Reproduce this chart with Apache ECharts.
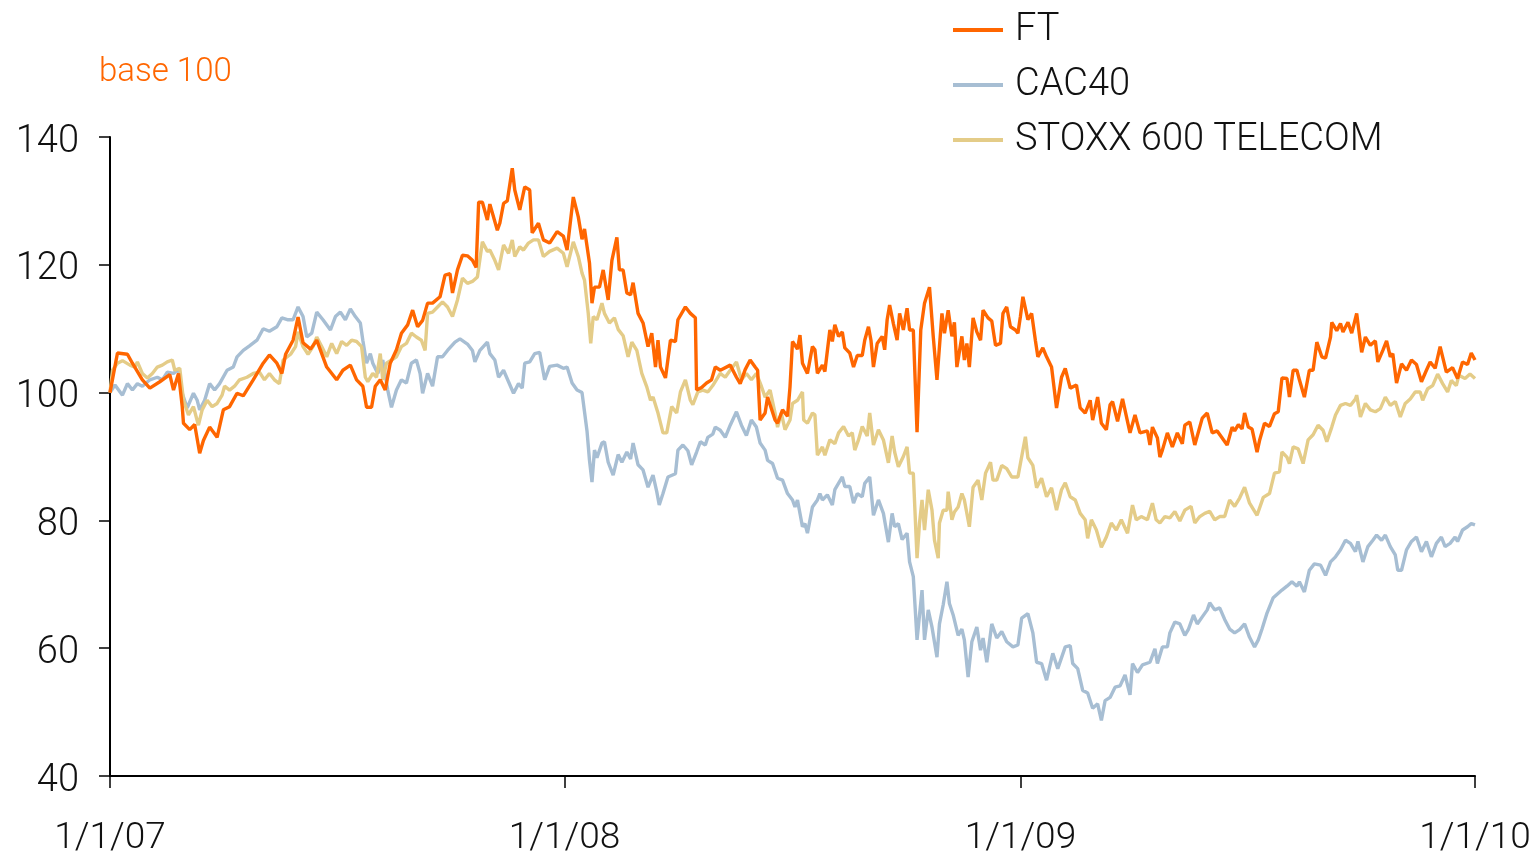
<!DOCTYPE html>
<html>
<head>
<meta charset="utf-8">
<script src="https://cdn.jsdelivr.net/npm/echarts@6/dist/echarts.min.js"></script>
<style>
html,body{margin:0;padding:0;background:#fff}
#chart{width:1536px;height:852px}
</style>
</head>
<body>
<div id="chart"></div>
<script>
// names / axis ticks
var seriesNames = ['FT', 'CAC40', 'STOXX 600 TELECOM'];
var yTicks = [40, 60, 80, 100, 120, 140];
var xTickDays = [0, 365, 731, 1096];          // days after 1/1/07
var xTickLabels = ['1/1/07', '1/1/08', '1/1/09', '1/1/10'];
var unitLabel = 'base 100';

// [days after 1/1/07, index value]
var ftData = [[0,100],[6,106.2],[14,106],[18,104.6],[26,102],[32,100.7],[40,101.7],[48,102.8],[51,100.4],[55,103],[58,97.8],[59,95.2],[64,94.2],[68,95],[72,90.5],[75,92.5],[80,94.6],[86,93],[91,97.3],[96,97.8],[102,99.9],[107,99.5],[115,102],[123,104.6],[128,105.9],[134,104.6],[138,103],[141,106],[147,108.2],[151,111.8],[155,107.8],[161,106.8],[166,108.2],[174,104],[182,102],[187,103.5],[193,104.3],[198,102],[203,101],[206,97.7],[210,97.7],[213,101],[217,102],[221,100.4],[225,104.6],[230,106.7],[234,109.3],[239,110.6],[243,112.9],[247,110.3],[251,111.3],[255,114],[259,114],[265,115],[269,118.4],[273,118.6],[275,115.6],[279,119.2],[283,121.5],[287,121.4],[291,120.7],[294,119.6],[296,129.8],[299,129.8],[303,127],[305,129.5],[311,125.4],[313,126.5],[316,129.6],[319,130],[323,135.1],[325,131.7],[329,128.6],[333,132.2],[337,131.7],[339,125],[344,126.5],[348,123.9],[353,123.4],[359,125.2],[364,124.5],[367,122.3],[372,130.6],[376,127.5],[379,124],[381,125.6],[385,120.3],[387,114],[389,116.5],[393,116.5],[396,119.2],[400,114.5],[403,120.7],[407,124.3],[409,119.2],[412,119.2],[415,115.6],[418,115.3],[420,117.2],[424,112.4],[428,110.9],[432,107.2],[435,109.3],[438,104],[440,108.2],[442,104],[446,102.3],[450,108.2],[454,108],[456,111.4],[462,113.4],[466,112.4],[470,111.7],[471,100.4],[475,100.8],[479,101.5],[483,102],[486,104],[490,103.5],[492,103.7],[498,104.3],[503,102.4],[506,101.4],[510,103.6],[514,105.1],[518,104],[520,103.5],[522,95.7],[526,96.8],[528,99.3],[534,95.7],[536,95.2],[540,97.3],[544,96.3],[546,100.9],[548,108],[552,106.8],[554,109],[556,104.6],[560,103],[564,107.2],[566,106.7],[568,103],[572,104.3],[574,103.3],[578,109.8],[580,108],[582,110.6],[585,108.8],[588,109.5],[590,107],[594,106.2],[597,104],[600,105.8],[604,105.8],[606,108.2],[609,110.3],[611,108.2],[613,104],[616,107.7],[620,108.8],[622,106.7],[624,111.4],[626,113.7],[629,110.8],[632,108.2],[634,112.4],[637,109.8],[640,113.2],[642,109.8],[645,109.8],[648,93.8],[651,109.8],[654,114],[658,116.5],[661,108.8],[664,102],[668,112.4],[670,109.3],[673,112.9],[676,108.8],[678,111],[680,104],[684,108.8],[686,105.1],[688,107.7],[690,104],[693,111.7],[696,109.5],[699,108.2],[701,112.9],[705,111.7],[708,111.2],[711,107.4],[715,107.7],[717,112.4],[720,113.4],[723,110.3],[727,109.8],[729,109.3],[731,111.9],[733,115],[737,111.4],[740,112.4],[743,108.2],[745,105.6],[749,107],[752,105.6],[756,104],[760,97.6],[764,102.4],[767,103.8],[771,100.7],[776,101.2],[779,97.6],[783,96.8],[787,98.8],[789,95.7],[793,99.3],[796,95.2],[800,94.2],[803,98.1],[805,98.6],[809,95.5],[813,99],[819,93.7],[823,96.5],[827,93.7],[833,94],[835,91.8],[837,94.6],[841,92.9],[843,89.9],[845,91],[849,93.7],[853,91.5],[857,93.7],[861,92],[863,94.9],[867,95.4],[871,91.8],[877,96],[881,96.8],[885,93.7],[889,94],[893,92.9],[897,91.8],[901,94.6],[903,94],[906,95],[909,94.3],[911,96.8],[914,94.6],[917,94.3],[921,90.7],[923,92.5],[927,95.2],[931,94.7],[935,96.7],[938,97],[941,102.3],[945,102.2],[947,99.3],[950,103.5],[953,103.5],[955,102],[959,99.3],[963,103.5],[966,103.5],[969,107.9],[973,105.6],[976,105.4],[980,108.7],[981,111],[985,109.7],[988,110.8],[990,109.5],[994,111],[997,109.3],[1001,112.4],[1005,106.3],[1008,108.7],[1012,107.4],[1016,108.1],[1018,104.8],[1022,106.6],[1025,108.1],[1028,105.6],[1030,106.1],[1033,101.5],[1037,104.5],[1041,103.5],[1045,105.1],[1049,104.4],[1053,101.7],[1057,103.5],[1060,104.8],[1064,103.8],[1068,107.2],[1073,103.2],[1078,103.9],[1082,102.2],[1086,104.8],[1090,104.4],[1093,106.2],[1096,105.1]];

var cacData = [[0,100],[4,101.2],[10,99.6],[14,101.4],[18,100.4],[22,101.4],[26,101],[32,102],[38,102.4],[42,102],[46,103.2],[51,103],[55,103.7],[58,99.9],[62,97.6],[67,99.9],[70,98.8],[72,97.3],[76,98.8],[80,101.4],[84,100.4],[88,101.4],[94,103.5],[99,104],[102,105.6],[107,106.6],[112,107.3],[118,108.2],[123,110],[128,109.6],[134,110.3],[138,111.7],[143,111.4],[147,111.4],[151,113.4],[155,111.9],[158,108.7],[162,109.3],[166,112.6],[171,111.4],[177,109.8],[181,111.9],[185,112.6],[189,111.4],[193,113.1],[197,111.9],[201,110.9],[203,108.2],[206,104.6],[209,106.1],[211,104.6],[215,103],[219,105.1],[223,100.4],[226,97.7],[230,100.4],[234,102],[238,101.5],[242,104.6],[246,105.1],[249,103],[251,99.9],[255,103],[259,101],[263,105.6],[267,105.6],[271,106.6],[277,107.9],[281,108.4],[287,107.6],[291,106.6],[293,104.8],[297,106.6],[303,107.9],[305,106.1],[309,105.1],[312,102.4],[316,103.5],[320,101.7],[324,99.9],[328,101.4],[331,100.7],[333,104.6],[337,104.8],[341,106.1],[345,106.3],[349,102],[353,104.1],[359,104.3],[364,103.8],[367,104],[371,101.5],[375,100.4],[379,100],[381,97],[383,94],[385,89.4],[387,86],[389,91],[391,89.8],[395,92.1],[397,92.3],[400,89.1],[404,87.1],[408,90.3],[411,89.1],[415,90.7],[418,89.6],[420,92.1],[424,88.7],[428,87.9],[432,85.2],[436,87.1],[439,84.5],[441,82.4],[444,84.2],[448,86.8],[454,87.3],[456,91],[460,91.8],[464,90.9],[467,88.7],[471,90.7],[474,92.3],[478,91.8],[480,93],[484,93.5],[486,94.6],[490,94.1],[494,93],[498,94.9],[503,97],[507,94.9],[511,93.3],[515,95.7],[519,94.6],[522,92.1],[526,91],[528,89.4],[532,88.9],[536,86.6],[540,86.3],[544,84.2],[548,83.2],[550,82.1],[552,83.2],[556,79],[558,79.5],[560,78],[564,82.1],[568,83.2],[570,84.2],[572,83.2],[576,84],[580,82.4],[582,84.8],[588,86.8],[590,85.3],[594,85.3],[597,82.7],[600,84.2],[604,83.7],[606,85.8],[610,86.8],[613,80.8],[617,83.2],[621,81.1],[625,76.6],[628,81.1],[630,79],[633,79.5],[636,77],[640,78],[642,73.5],[645,71.2],[648,61.3],[652,69.1],[654,61.3],[657,66],[660,63.3],[664,58.6],[666,63.8],[669,66.8],[672,70.4],[674,67],[677,65.2],[681,62],[684,63],[686,61.3],[689,55.5],[692,61],[696,63.3],[699,59.7],[701,61.6],[704,57.8],[708,63.8],[712,61.6],[716,62.6],[720,61],[725,60.2],[729,60.5],[732,64.7],[737,65.4],[741,62.4],[744,57.8],[748,57.6],[752,55],[757,59.2],[761,56.8],[767,60.2],[771,60.4],[773,57.6],[777,56.8],[781,53.4],[785,53],[789,50.6],[793,51.3],[796,48.7],[799,51.8],[803,52.3],[807,53.9],[811,54.1],[815,55.8],[819,52.7],[821,57.6],[825,56.2],[829,57.4],[835,57.8],[839,59.9],[841,57.6],[845,60.2],[849,60.2],[851,62.4],[855,64.1],[859,63.8],[863,62],[866,63],[870,65.2],[873,63.8],[877,64.9],[881,66],[883,67.1],[887,66],[891,66.3],[895,64.5],[899,63],[903,62.4],[907,62.9],[911,63.8],[915,61.7],[919,60.2],[922,61.3],[925,63],[929,65.5],[934,67.9],[941,69.1],[945,69.7],[949,70.4],[953,69.7],[955,70.4],[959,68.8],[963,72.2],[967,73.2],[972,73],[976,71.4],[980,73.5],[984,74.3],[988,75.4],[992,76.9],[996,76.4],[1000,75.1],[1002,76.7],[1006,73.5],[1010,75.9],[1014,76.9],[1017,77.7],[1021,76.9],[1024,77.7],[1028,75.9],[1032,74.6],[1034,72.2],[1037,72.2],[1041,75.4],[1045,76.7],[1049,77.4],[1053,75.1],[1057,76.7],[1061,74.3],[1065,76.4],[1069,77.4],[1072,75.9],[1076,76.4],[1080,77.4],[1082,76.7],[1086,78.5],[1090,79],[1093,79.5],[1096,79.3]];

var stoxxData = [[0,100],[2,103.5],[6,104.6],[10,105],[16,104.3],[20,104],[22,104.8],[26,103],[30,102.3],[34,103],[38,104],[42,104.3],[46,104.8],[50,105.1],[52,103.5],[56,103.8],[59,98.8],[63,96.5],[67,97.8],[71,94.9],[74,97.3],[78,98.8],[82,97.8],[86,98.3],[90,99.6],[92,101],[96,100.4],[100,101],[104,102],[110,102.4],[115,103],[120,103.2],[124,102],[128,103],[132,102],[136,101.4],[139,105.1],[145,106],[149,107.2],[151,109.5],[155,107.2],[159,106],[163,107.2],[166,108.7],[170,107.2],[174,105.6],[178,107.7],[182,106.1],[186,108],[190,107.4],[194,108.2],[198,108],[202,107.2],[205,102.4],[207,101.7],[211,103],[214,102.4],[217,106.1],[219,102],[222,104.6],[226,105.1],[230,105.6],[234,107.2],[238,107.7],[242,109.3],[246,108.7],[250,108.2],[253,106.6],[255,112.4],[259,112.6],[263,113.4],[267,114.2],[271,113.4],[275,111.9],[279,114.5],[283,117.9],[287,117.1],[291,117.4],[295,118.1],[299,123.6],[303,122.1],[305,122.3],[309,120.7],[312,119.2],[316,123.1],[320,121.8],[323,123.9],[325,121.3],[329,122.8],[332,122.3],[336,123.4],[340,123.9],[344,123.9],[348,121.3],[353,122.1],[359,122.6],[364,121.8],[367,119.7],[372,123.6],[376,121.3],[379,118.7],[381,117.6],[384,112.4],[386,107.7],[388,111.9],[391,111.4],[395,114],[397,112.4],[401,110.9],[405,111.7],[408,109.9],[412,108.9],[416,105.6],[419,107.9],[423,106.6],[427,103],[431,100.9],[434,98.8],[436,99.3],[440,96.8],[444,93.7],[447,93.7],[451,97.8],[455,96.8],[458,100.1],[462,102],[466,98.8],[468,98.1],[472,100.1],[476,100.4],[480,100.1],[484,101.1],[490,103],[494,102.4],[498,103.5],[503,104.8],[507,102],[511,103],[515,102],[519,103],[523,101],[526,99.3],[530,100.4],[534,96.8],[536,94.6],[539,96.8],[542,94.2],[546,95.7],[548,98.3],[552,98.8],[556,100.1],[557,95.7],[560,95.2],[564,96.8],[566,96.5],[568,90.2],[572,91.5],[574,90.2],[578,92.6],[582,92],[585,93.7],[589,94.7],[593,93.2],[596,93.7],[598,91],[601,92.6],[604,94.7],[608,93.2],[610,96.8],[613,91.8],[617,94.2],[621,92.6],[625,89],[628,93.2],[630,90.7],[633,88.4],[637,90],[640,91.5],[642,87.4],[645,87.4],[648,74.1],[650,79.6],[652,83.2],[654,78.5],[657,84.8],[660,81.6],[662,76.9],[665,74.1],[666,79.6],[669,81.6],[672,81.6],[673,84.5],[676,80.1],[678,81.3],[681,82.1],[684,84.2],[686,83.2],[690,79],[693,85.2],[697,86.3],[700,83.2],[703,87.4],[707,89.1],[709,86.3],[712,86.3],[716,88.6],[720,88.1],[724,86.8],[729,86.8],[731,88.9],[733,91],[735,93.1],[737,89.8],[741,88.6],[744,85.1],[748,86.6],[752,83.7],[756,85.1],[760,81.6],[764,84.8],[767,85.9],[771,83.7],[775,83.2],[779,81.1],[783,80.1],[785,77.2],[788,80.1],[792,78.5],[796,75.8],[800,77.4],[804,79.6],[808,78.5],[812,80.1],[817,78],[821,82.4],[824,80.1],[828,80.6],[833,80.1],[837,82.7],[840,80.1],[843,79.6],[847,80.6],[851,80.4],[855,81.4],[859,79.9],[863,81.6],[868,82.2],[871,79.6],[875,80.6],[879,81.1],[883,81.4],[887,80.1],[891,80.6],[895,80.6],[899,83.2],[903,82.2],[907,83.5],[911,85.2],[915,82.7],[921,80.8],[926,83.6],[931,84.2],[935,87.4],[939,87.6],[941,90.7],[945,89.9],[947,88.9],[950,91.5],[954,91.2],[958,88.9],[962,92.6],[966,93.4],[970,94.9],[974,94.1],[977,92.3],[981,94.6],[984,96.5],[988,98],[992,98.3],[996,98],[1000,99],[1001,99.6],[1004,96.2],[1008,98.3],[1012,97.3],[1016,97],[1020,97.5],[1024,99.3],[1028,98],[1032,98.6],[1036,96.2],[1040,98.3],[1044,99],[1048,100.1],[1052,100.1],[1054,98.8],[1058,100.6],[1062,101.1],[1066,102.9],[1070,101.4],[1074,100.1],[1077,101.9],[1081,101.1],[1083,102.7],[1088,102.2],[1092,102.9],[1096,102.2]];

var colors = ['#ff6600', '#a7bed3', '#e4cc88'];

var labelByDay = {};
xTickDays.forEach(function(d, i){ labelByDay[d] = xTickLabels[i]; });

var font = 'Roboto';
var myChart = echarts.init(document.getElementById('chart'));

var option = {
	animation: false,
	color: colors,
	title: {
		text: unitLabel,
		left: 99,
		top: 56,
		padding: 0,
		textStyle: {color: '#ff6600', fontSize: 33, fontWeight: 300, fontFamily: font}
	},
	legend: {
		orient: 'vertical',
		left: 953,
		top: 11,
		padding: 0,
		itemWidth: 50,
		itemHeight: 4,
		itemGap: 17,
		icon: 'rect',
		data: seriesNames,
		textStyle: {color: '#111', fontSize: 38, fontWeight: 300, fontFamily: font, padding: [0, 0, 0, 7]}
	},
	// keep the plot box fixed; labels may sit near the edges
	grid: {left: 110, right: 61, top: 137, bottom: 76, containLabel: false, outerBoundsMode: 'none'},
	xAxis: {
		type: 'value',
		min: xTickDays[0],
		max: xTickDays[xTickDays.length - 1],
		axisLine: {onZero: false, lineStyle: {color: '#000', width: 2}},
		axisTick: {show: true, inside: false, length: 12, lineStyle: {color: '#000', width: 1.5}, customValues: xTickDays},
		axisLabel: {
			customValues: xTickDays,
			margin: 44,
			color: '#111',
			fontSize: 37,
			fontWeight: 300,
			fontFamily: font,
			formatter: function(v){ return labelByDay[v] || ''; }
		},
		splitLine: {show: false}
	},
	yAxis: {
		type: 'value',
		min: yTicks[0],
		max: yTicks[yTicks.length - 1],
		interval: 20,
		axisLine: {show: true, lineStyle: {color: '#000', width: 2}},
		axisTick: {show: true, inside: false, length: 11, lineStyle: {color: '#000', width: 1.5}},
		// labels sit a little below their ticks in the original
		axisLabel: {margin: 31, color: '#111', fontSize: 38, fontWeight: 300, fontFamily: font, verticalAlign: 'top', lineHeight: 10},
		splitLine: {show: false}
	},
	series: [
		{name: seriesNames[0], type: 'line', z: 4, data: ftData, showSymbol: false, lineStyle: {width: 3.4}},
		{name: seriesNames[1], type: 'line', z: 2, data: cacData, showSymbol: false, lineStyle: {width: 3.4}},
		{name: seriesNames[2], type: 'line', z: 3, data: stoxxData, showSymbol: false, lineStyle: {width: 3.4}}
	]
};
myChart.setOption(option);
</script>
</body>
</html>
